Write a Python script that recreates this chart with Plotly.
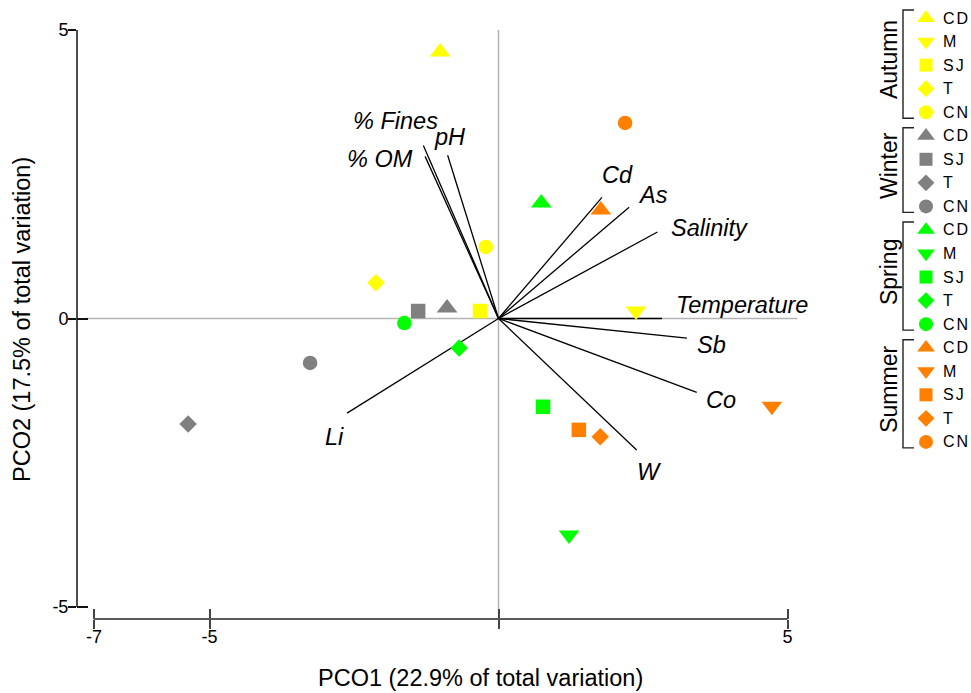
import plotly.graph_objects as go

# ---- PCO scores, one pair of lists per season (site order as in season_sites) ----
seasons = ["Autumn", "Winter", "Spring", "Summer"]
season_sites = {
    "Autumn": ["CD", "M", "SJ", "T", "CN"],
    "Winter": ["CD", "SJ", "T", "CN"],
    "Spring": ["CD", "M", "SJ", "T", "CN"],
    "Summer": ["CD", "M", "SJ", "T", "CN"],
}
autumn_pco1 = [-1.01, 2.38, -0.32, -2.12, -0.22]
autumn_pco2 = [4.62, 0.13, 0.13, 0.62, 1.24]
winter_pco1 = [-0.89, -1.39, -5.37, -3.26]
winter_pco2 = [0.18, 0.13, -1.83, -0.77]
spring_pco1 = [0.74, 1.22, 0.77, -0.68, -1.63]
spring_pco2 = [2.00, -3.75, -1.53, -0.51, -0.08]
summer_pco1 = [1.77, 4.73, 1.39, 1.76, 2.19]
summer_pco2 = [1.88, -1.52, -1.93, -2.05, 3.39]

# ---- environmental vectors (end points) ----
vector_names = ["% Fines", "% OM", "pH", "Cd", "As", "Salinity",
                "Temperature", "Sb", "Co", "W", "Li"]
vector_pco1 = [-1.30, -1.27, -0.88, 1.79, 2.26, 2.75, 2.83, 3.26, 3.43, 2.39, -2.62]
vector_pco2 = [3.00, 2.81, 2.83, 2.10, 1.93, 1.50, 0.00, -0.34, -1.28, -2.28, -1.64]

x_ticks = [-7, -5, 0, 5]
x_tick_text = ["-7", "-5", "", "5"]
y_ticks = [-5, 0, 5]
y_tick_text = ["-5", "0", "5"]
x_title = "PCO1 (22.9% of total variation)"
y_title = "PCO2 (17.5% of total variation)"

scores = {
    "Autumn": (autumn_pco1, autumn_pco2),
    "Winter": (winter_pco1, winter_pco2),
    "Spring": (spring_pco1, spring_pco2),
    "Summer": (summer_pco1, summer_pco2),
}

# ---- styling ----
FONT = "Arial, 'Liberation Sans', sans-serif"
season_colors = {"Autumn": "#FFFF00", "Winter": "#808080",
                 "Spring": "#00FF00", "Summer": "#FF8000"}
site_symbols = {"CD": "triangle-up", "M": "triangle-down", "SJ": "square",
                "T": "diamond", "CN": "circle"}
main_sizes = {"triangle-up": 18, "triangle-down": 18, "square": 14.5,
              "diamond": 13.5, "circle": 14.5}
legend_sizes = {"triangle-up": 15.5, "triangle-down": 15.5, "square": 13,
                "diamond": 13, "circle": 14}
# label offsets (pixels) from each vector tip
label_shift = {
    "% Fines": (-28, 24), "% OM": (-45, -3), "pH": (2, 18), "Cd": (16, 22),
    "As": (24, 12), "Salinity": (52, 4), "Temperature": (80, 14),
    "Sb": (25, -7), "Co": (24, -8), "W": (13, -22), "Li": (-13, -24),
}

W, H = 971, 693


def fx(px):
    return px / W


def fy(py):
    return 1 - py / H


X0_PX, X_PPU = 498.5, 57.8
Y0_PX, Y_PPU = 318.5, 57.7
PL, PR, PT, PB = 77, 800, 30, 619
x_range = [(PL - X0_PX) / X_PPU, (PR - X0_PX) / X_PPU]
y_range = [(Y0_PX - PB) / Y_PPU, (Y0_PX - PT) / Y_PPU]

fig = go.Figure()

# vectors from the origin
vx, vy = [], []
for a, b in zip(vector_pco1, vector_pco2):
    vx += [0, a, None]
    vy += [0, b, None]
fig.add_trace(go.Scatter(x=vx, y=vy, mode="lines",
                         line=dict(color="black", width=1.3),
                         hoverinfo="skip", showlegend=False))

# sample scores
for season in seasons:
    xs, ys = scores[season]
    sites = season_sites[season]
    syms = [site_symbols[s] for s in sites]
    fig.add_trace(go.Scatter(
        x=xs, y=ys, mode="markers", name=season, showlegend=False,
        text=sites, cliponaxis=False,
        marker=dict(symbol=syms, size=[main_sizes[s] for s in syms],
                    color=season_colors[season], opacity=1,
                    line=dict(width=0)),
    ))

# vector labels
for name, a, b in zip(vector_names, vector_pco1, vector_pco2):
    dx, dy = label_shift[name]
    fig.add_annotation(x=a, y=b, xref="x", yref="y", text=name,
                       showarrow=False, xshift=dx, yshift=dy,
                       xanchor="center", yanchor="middle",
                       font=dict(family=FONT, size=23.5, color="black",
                                 style="italic"))

# custom legend on its own pixel-scaled axes
ROW0, ROW_STEP = 18, 23.55
row = 0
for season in seasons:
    sites = season_sites[season]
    rows = [ROW0 + ROW_STEP * (row + i) for i in range(len(sites))]
    syms = [site_symbols[s] for s in sites]
    fig.add_trace(go.Scatter(
        x=[926] * len(sites), y=rows, mode="markers", xaxis="x2", yaxis="y2",
        showlegend=False, hoverinfo="skip", cliponaxis=False,
        marker=dict(symbol=syms, size=[legend_sizes[s] for s in syms],
                    color=season_colors[season], opacity=1,
                    line=dict(width=0)),
    ))
    for s, ry in zip(sites, rows):
        fig.add_annotation(x=941, y=ry, xref="x2", yref="y2",
                           text=f'<span style="letter-spacing:2px">{s}</span>',
                           showarrow=False, xanchor="left", yanchor="middle",
                           font=dict(family=FONT, size=16, color="black"))
    top, bot = rows[0] - 8, rows[-1] + 6
    fig.add_shape(type="path", xref="x2", yref="y2",
                  path=f"M 914 {top} L 903 {top} L 903 {bot} L 914 {bot}",
                  line=dict(color="#222", width=1.4))
    fig.add_annotation(x=889, y=(top + bot) / 2 - 4, xref="x2", yref="y2",
                       text=season, textangle=-90, showarrow=False,
                       xanchor="center", yanchor="middle",
                       font=dict(family=FONT, size=23, color="black"))
    row += len(sites)

# empty traces so the inner-tick overlay axes are laid out
fig.add_trace(go.Scatter(x=[], y=[], xaxis="x3", yaxis="y", showlegend=False))
fig.add_trace(go.Scatter(x=[], y=[], xaxis="x", yaxis="y3", showlegend=False))

# reference lines through the origin
fig.add_shape(type="line", xref="x", yref="y", x0=0, x1=0, y0=-5.1, y1=5,
              line=dict(color="#b4b4b4", width=1.5), layer="below")
fig.add_shape(type="line", xref="x", yref="y", x0=-7.14, x1=5.17, y0=0, y1=0,
              line=dict(color="#b4b4b4", width=1.5), layer="below")
# axis spines spanning the tick range only
fig.add_shape(type="line", xref="x", yref="y domain", x0=-7, x1=5, y0=0, y1=0,
              line=dict(color="#5a5a5a", width=2.2))
fig.add_shape(type="line", xref="x domain", yref="y", x0=0, x1=0, y0=-5, y1=5,
              line=dict(color="#111", width=1.5))

# axis titles
fig.add_annotation(x=fx(480), y=fy(678), xref="paper", yref="paper",
                   text=x_title, showarrow=False,
                   xanchor="center", yanchor="middle",
                   font=dict(family=FONT, size=23.5, color="black"))
fig.add_annotation(x=fx(22), y=fy(320), xref="paper", yref="paper",
                   text=y_title, showarrow=False, textangle=-90,
                   xanchor="center", yanchor="middle",
                   font=dict(family=FONT, size=23.5, color="black"))

tick_font = dict(family=FONT, size=18, color="black")
fig.update_layout(
    template="none",
    width=W, height=H, margin=dict(l=0, r=0, t=0, b=0, pad=0),
    paper_bgcolor="white", plot_bgcolor="white", showlegend=False,
    xaxis=dict(domain=[fx(PL), fx(PR)], range=x_range, anchor="y",
               automargin=False,
               showgrid=False, zeroline=False, showline=False,
               ticks="outside", ticklen=9, tickwidth=1.5, tickcolor="#444",
               ticklabelstandoff=-8,
               tickvals=x_ticks, ticktext=x_tick_text, tickfont=tick_font),
    xaxis3=dict(overlaying="x", anchor="y", range=x_range, side="bottom",
                automargin=False,
                showgrid=False, zeroline=False, showline=False,
                ticks="inside", ticklen=10, tickwidth=1.5, tickcolor="#444",
                tickvals=x_ticks, showticklabels=False),
    yaxis=dict(domain=[fy(PB), fy(PT)], range=y_range, anchor="x",
               automargin=False,
               showgrid=False, zeroline=False, showline=False,
               ticks="outside", ticklen=8, tickwidth=1.5, tickcolor="#111",
               ticklabelstandoff=-4,
               tickvals=y_ticks, ticktext=y_tick_text, tickfont=tick_font),
    yaxis3=dict(overlaying="y", anchor="x", range=y_range, side="left",
                automargin=False,
                showgrid=False, zeroline=False, showline=False,
                ticks="inside", ticklen=11, tickwidth=1.5, tickcolor="#111",
                tickvals=y_ticks, showticklabels=False),
    xaxis2=dict(domain=[fx(850), 1], range=[850, 971], visible=False,
                anchor="y2", automargin=False),
    yaxis2=dict(domain=[fy(470), 1], range=[470, 0], visible=False,
                anchor="x2", automargin=False),
)

fig.write_html("out.html")
